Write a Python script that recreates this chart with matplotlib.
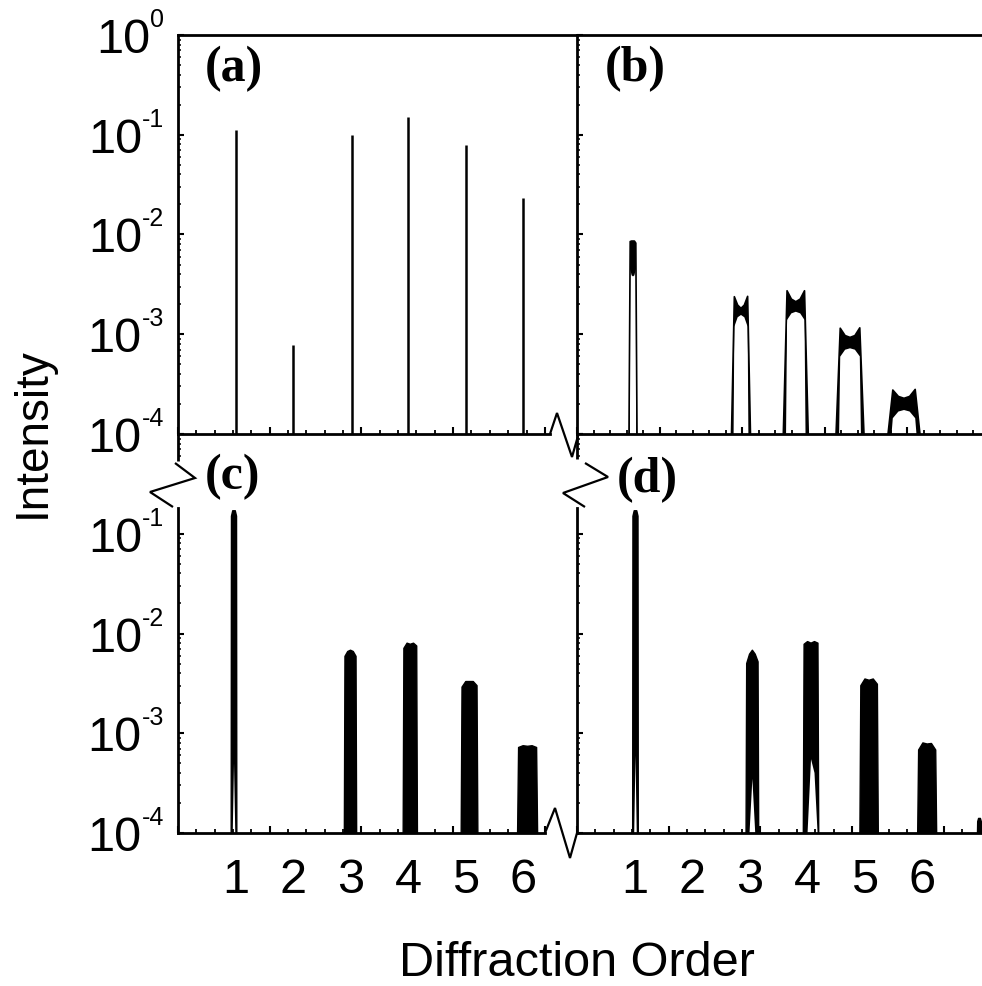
import numpy as np
import matplotlib
matplotlib.use("Agg")
import matplotlib.pyplot as plt
from matplotlib.lines import Line2D
from matplotlib.ticker import FixedLocator, NullFormatter
from matplotlib.textpath import TextPath
from matplotlib.font_manager import FontProperties
from matplotlib.transforms import IdentityTransform

plt.rcParams['font.family'] = ['Liberation Sans', 'DejaVu Sans']

# ---------------- data ----------------
order_labels = ['1', '2', '3', '4', '5', '6']
order_label_pos = [1, 2, 3, 4, 5, 6]
decade_exps_top = [0, -1, -2, -3, -4]
decade_exps_bottom = [-1, -2, -3, -4]
panel_names = ['(a)', '(b)', '(c)', '(d)']

# (a) single sharp lines
a_pos = [1.0, 2.0, 3.02, 4.0, 5.0, 6.0]
a_int = [0.112, 0.00078, 0.0994, 0.151, 0.079, 0.0232]

# (b) plateaus: centre, half-width, upper and lower envelope (5 samples each)
b_pos = [0.974, 2.852, 3.805, 4.748, 5.687]
b_halfwidth = [0.07, 0.165, 0.217, 0.243, 0.278]
b_upper = [
    [0.0085, 0.0086, 0.0086, 0.0086, 0.0082],
    [0.00238, 0.00196, 0.00182, 0.00196, 0.00240],
    [0.00273, 0.00225, 0.00212, 0.00225, 0.00273],
    [0.00115, 0.00097, 0.00093, 0.00097, 0.00116],
    [0.000276, 0.000238, 0.000228, 0.000238, 0.00028],
]
b_lower = [
    [0.0045, 0.0039, 0.0038, 0.0039, 0.0045],
    [0.00119, 0.00148, 0.00156, 0.00148, 0.00119],
    [0.00139, 0.00162, 0.00168, 0.00162, 0.00139],
    [0.000596, 0.00070, 0.000723, 0.00070, 0.00060],
    [0.000144, 0.000168, 0.000174, 0.000168, 0.000144],
]

# (c) dense oscillating blocks
c_pos = [0.974, 3.0, 4.04, 5.07, 6.08]
c_halfwidth = [0.049, 0.107, 0.124, 0.145, 0.174]
c_upper = [
    [0.15, 0.17, 0.17, 0.17, 0.15],
    [0.0059, 0.0066, 0.0068, 0.0066, 0.0059],
    [0.0071, 0.0080, 0.0078, 0.0080, 0.0075],
    [0.0029, 0.0033, 0.0033, 0.0033, 0.0030],
    [0.00072, 0.00075, 0.00074, 0.00075, 0.00072],
]
c_lower = [
    [1e-4, 1e-4, 5e-4, 1e-4, 1e-4],
    [1e-4, 1e-4, 1e-4, 1e-4, 1e-4],
    [1e-4, 1e-4, 1e-4, 1e-4, 1e-4],
    [1e-4, 1e-4, 1e-4, 1e-4, 1e-4],
    [1e-4, 1e-4, 1e-4, 1e-4, 1e-4],
]

# (d)
d_pos = [1.017, 3.05, 4.07, 5.08, 6.09, 7.0]
d_halfwidth = [0.049, 0.11, 0.134, 0.16, 0.165, 0.035]
d_upper = [
    [0.15, 0.17, 0.17, 0.17, 0.15],
    [0.0050, 0.0062, 0.0068, 0.0062, 0.0052],
    [0.0078, 0.0083, 0.0080, 0.0083, 0.0080],
    [0.0030, 0.0035, 0.0034, 0.0035, 0.0031],
    [0.00068, 0.00080, 0.00078, 0.00079, 0.00068],
    [0.00013, 0.00014, 0.00014, 0.00014, 0.00013],
]
d_lower = [
    [1e-4, 1e-4, 6e-4, 1e-4, 1e-4],
    [1e-4, 1e-4, 3.5e-4, 1e-4, 1e-4],
    [1e-4, 1e-4, 5.5e-4, 4e-4, 1e-4],
    [1e-4, 1e-4, 1e-4, 1e-4, 1e-4],
    [1e-4, 1e-4, 1e-4, 1e-4, 1e-4],
    [1e-4, 1e-4, 1e-4, 1e-4, 1e-4],
]

# ---------------- layout ----------------
W, H, DPI = 982, 986, 100
YMIN, YMAX = 1e-4, 1.0
PX_PER_ORDER = 57.5

fig = plt.figure(figsize=(W / DPI, H / DPI), dpi=DPI)


def px_axes(x0, x1, y0, y1):
    return fig.add_axes([x0 / W, 1 - y1 / H, (x1 - x0) / W, (y1 - y0) / H])


ax_a = px_axes(178, 577, 35, 434)
ax_b = px_axes(577, 982, 35, 434)
ax_c = px_axes(178, 577, 434, 833)
ax_d = px_axes(577, 982, 434, 833)
axes = [ax_a, ax_b, ax_c, ax_d]

ax_a.set_xlim(0, 399 / PX_PER_ORDER)
ax_c.set_xlim(0, 399 / PX_PER_ORDER)
ax_b.set_xlim(0, 405 / PX_PER_ORDER)
ax_d.set_xlim(0, 405 / PX_PER_ORDER)

LW_SPINE = 2.0
for ax in axes:
    ax.set_yscale('log')
    ax.set_ylim(YMIN, YMAX)
    ax.patch.set_visible(False)
    for s in ax.spines.values():
        s.set_linewidth(LW_SPINE)
        s.set_color('k')
    ax.spines['right'].set_visible(False)
    ax.xaxis.set_major_formatter(NullFormatter())
    ax.xaxis.set_minor_formatter(NullFormatter())
    ax.yaxis.set_major_formatter(NullFormatter())
    ax.yaxis.set_minor_formatter(NullFormatter())

for ax in (ax_c, ax_d):
    ax.spines['top'].set_visible(False)

# broken spines
ax_a.spines['bottom'].set_bounds(0, (550 - 178) / PX_PER_ORDER)
ax_c.spines['bottom'].set_bounds(0, (545 - 178) / PX_PER_ORDER)
y_break_low = 10 ** (-4 + 4 * (833 - 508) / 399)
ax_c.spines['left'].set_bounds(YMIN, y_break_low)
ax_d.spines['left'].set_bounds(YMIN, y_break_low)


def set_x_ticks(ax, step, xmax):
    n = int(np.floor(xmax / step + 1e-6))
    major = [k * step for k in range(n + 1)]
    m = int(np.floor(xmax / (step / 5) + 1e-6))
    minor = [k * step / 5 for k in range(m + 1)]
    ax.xaxis.set_major_locator(FixedLocator(major))
    ax.xaxis.set_minor_locator(FixedLocator(minor))


set_x_ticks(ax_a, 1.595, 6.4)
set_x_ticks(ax_c, 1.595, 6.4)
set_x_ticks(ax_b, 1.435, 7.04)
set_x_ticks(ax_d, 1.595, 7.04)

major_y = [10.0 ** k for k in range(-4, 1)]
minor_y = [m * 10.0 ** k for k in range(-4, 0) for m in range(2, 10)]
for ax in axes:
    ax.yaxis.set_major_locator(FixedLocator(major_y))
    if ax in (ax_c, ax_d):
        ax.yaxis.set_minor_locator(FixedLocator([v for v in minor_y if not (0.16 < v < 0.56)]))
    else:
        ax.yaxis.set_minor_locator(FixedLocator(minor_y))
    ax.xaxis.set_tick_params(which='major', direction='in', length=5, width=1.5, top=False)
    ax.xaxis.set_tick_params(which='minor', direction='in', length=2.8, width=1.3, top=False)
    ax.yaxis.set_tick_params(which='major', direction='in', length=4.5, width=1.5, right=False)
    ax.yaxis.set_tick_params(which='minor', direction='in', length=2.4, width=1.1, right=False)

# ---------------- marks ----------------
ax_a.vlines(a_pos, YMIN, a_int, colors='k', lw=1.8)

B_UFRAC = [-1, -0.7, -0.35, 0, 0.35, 0.7, 1]
B_LFRAC = [-0.78, -0.7, -0.35, 0, 0.35, 0.7, 0.78]
CD_UFRAC = [-1, -0.9, -0.45, 0, 0.45, 0.9, 1]
CD_LFRAC = [-0.9, -0.85, -0.45, 0, 0.45, 0.85, 0.9]


def draw_band(ax, c, w, up, lo, ufrac, lfrac, lw=1.0):
    xu = [c + w * f for f in ufrac]
    yu = [YMIN] + list(up) + [YMIN]
    xl = [c + w * f for f in lfrac]
    yl = [YMIN] + list(lo) + [YMIN]
    ax.fill(xu + xl[::-1], yu + yl[::-1], color='k', lw=0)
    ax.plot(xu, yu, color='k', lw=lw, solid_joinstyle='round')


for c, w, up, lo in zip(b_pos, b_halfwidth, b_upper, b_lower):
    draw_band(ax_b, c, w, up, lo, B_UFRAC, B_LFRAC, lw=1.2)
for c, w, up, lo in zip(c_pos, c_halfwidth, c_upper, c_lower):
    draw_band(ax_c, c, w, up, lo, CD_UFRAC, CD_LFRAC)
for c, w, up, lo in zip(d_pos, d_halfwidth, d_upper, d_lower):
    draw_band(ax_d, c, w, up, lo, CD_UFRAC, CD_LFRAC)

# ---------------- text ----------------
fp_big = FontProperties(family='Liberation Sans', size=35)
fp_sup = FontProperties(family='Liberation Sans', size=18)


def add_decade_label(ax, e):
    _, yd = ax.transData.transform((0.0, 10.0 ** e))
    sup = '%d' % e
    sw = TextPath((0, 0), sup, prop=fp_sup).get_extents().x1 * DPI / 72.0
    x_right = 164
    fig.text(x_right, yd + 8, sup, fontproperties=fp_sup, ha='right', va='baseline',
             transform=IdentityTransform())
    fig.text(x_right - sw - 1, yd - 18, '10', fontproperties=fp_big, ha='right',
             va='baseline', transform=IdentityTransform())


for e in decade_exps_top:
    add_decade_label(ax_a, e)
for e in decade_exps_bottom:
    add_decade_label(ax_c, e)

for ax in (ax_c, ax_d):
    for pos, lab in zip(order_label_pos, order_labels):
        ax.annotate(lab, xy=(pos, 0), xycoords=('data', 'axes fraction'),
                    xytext=(0, -60 * 0.72), textcoords='offset points',
                    ha='center', va='baseline', fontsize=35, annotation_clip=False)

fig.text(45 / W, 1 - 433 / H, 'Intensity', rotation=90, rotation_mode='anchor',
         ha='center', va='baseline', fontsize=33)
fig.text(576.5 / W, 1 - 976 / H, 'Diffraction Order', ha='center', va='baseline', fontsize=35)

panel_xy = [(205, 46), (605, 46), (205, 454), (617, 457)]
for name, (px, py) in zip(panel_names, panel_xy):
    fig.text(px / W, 1 - py / H, name, family='Liberation Serif', weight='bold',
             fontsize=36, ha='left', va='top')


# ---------------- axis-break decorations ----------------
def fig_line(pts, lw=1.6):
    xs = [p[0] / W for p in pts]
    ys = [1 - p[1] / H for p in pts]
    fig.add_artist(Line2D(xs, ys, transform=fig.transFigure, color='k', lw=lw,
                          solid_joinstyle='miter', solid_capstyle='butt'))


fig_line([(550, 434), (557, 413), (572, 457), (578, 436)])
fig_line([(577, 434), (577, 459)], lw=LW_SPINE)
fig_line([(585, 463), (608, 477), (563, 493), (585, 507)])
fig_line([(178, 434), (178, 461)], lw=LW_SPINE)
fig_line([(175, 463), (195, 478), (150, 492), (173, 507)])
fig_line([(545, 833), (555, 808), (570, 858), (577, 833)])

fig.savefig('out.png', dpi=DPI)
